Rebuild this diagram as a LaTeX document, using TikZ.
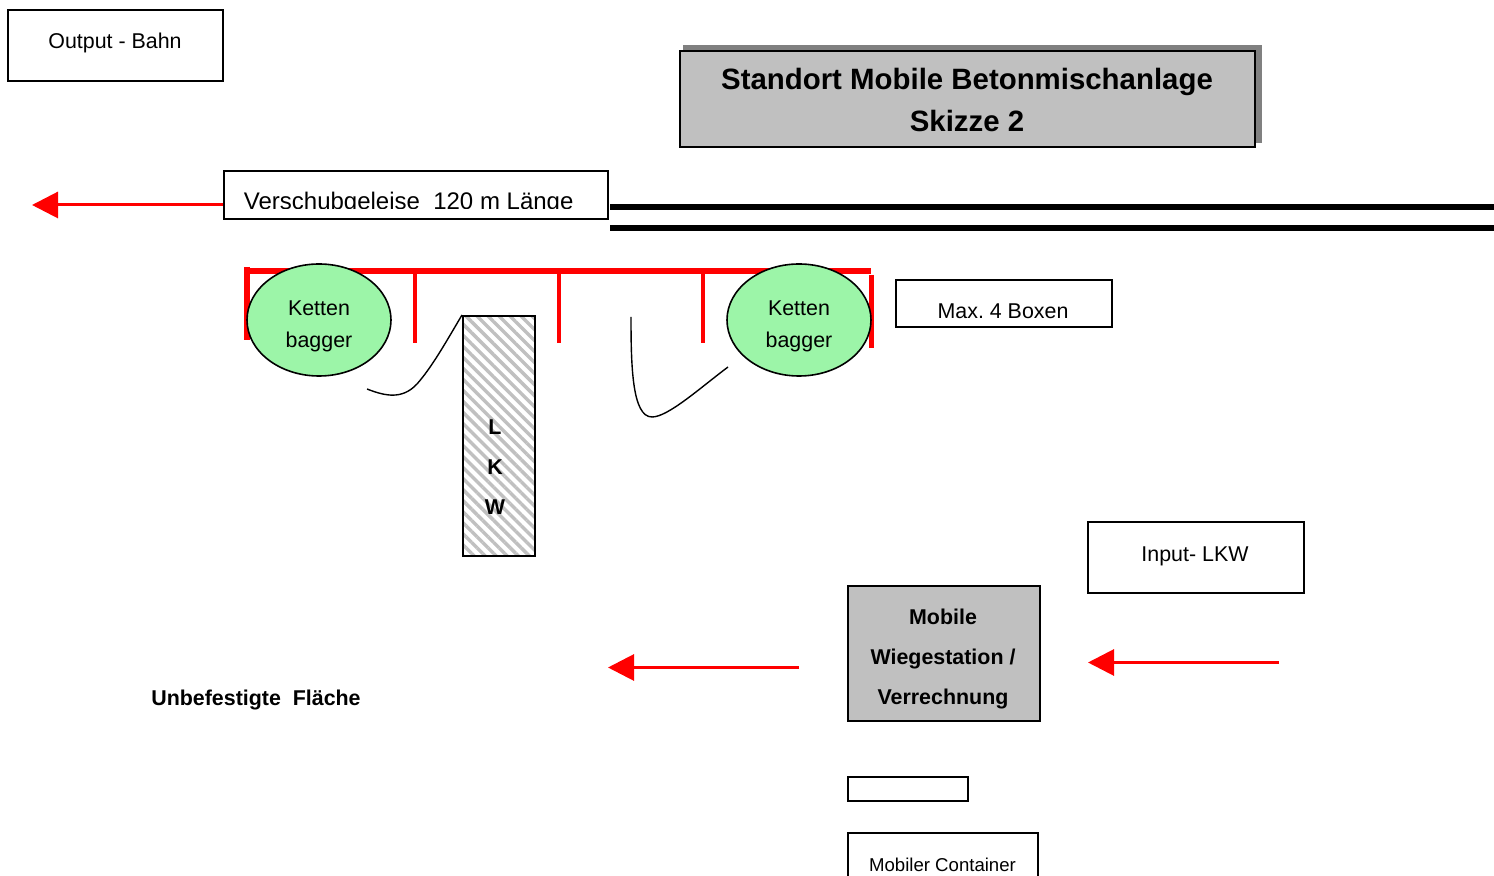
\documentclass[tikz,border=0pt]{standalone}
\usepackage{fontspec}
\setmainfont{Liberation Sans}
\usetikzlibrary{arrows.meta,patterns.meta,shapes.geometric}
\definecolor{boxgray}{HTML}{C0C0C0}
\definecolor{shadowgray}{HTML}{808080}
\definecolor{baggergreen}{HTML}{9CF5A8}
\tikzset{
  box/.style={draw, rectangle, line width=1pt, inner sep=0pt},
  beschriftung/.style={inner sep=0pt, align=center, font=\fontsize{10.7}{20}\selectfont},
  fett/.style={inner sep=0pt, align=center, font=\fontsize{10.7}{20}\selectfont\bfseries},
  bagger/.style={draw, ellipse, line width=0.8pt, fill=baggergreen, minimum width=72pt, minimum height=56pt, inner sep=0pt, align=center, font=\fontsize{10.7}{16}\selectfont},
  pfeil/.style={draw=red, line width=1.5pt, -{Triangle[length=13pt,width=13pt,fill=red]}},
  schiene/.style={line width=3pt},
  wand/.style={draw=red, line width=2pt},
}
\begin{document}
\frenchspacing
\begin{tikzpicture}[x=0.5pt,y=-0.5pt]
  \useasboundingbox (0,0) rectangle (1494,876);
  % Kopf
  \fill[shadowgray] (683,45) rectangle (1262,143);
  \node[box, fill=boxgray, minimum width=287.5pt, minimum height=48pt] (titel) at (967,99.5){};
  \node[fett, font=\fontsize{14.7}{21}\selectfont\bfseries] (titeltext) at (967,100){Standort Mobile Betonmischanlage\\Skizze 2};
  \node[box, minimum width=107.5pt, minimum height=35.5pt] (bahn) at (115,46){};
  \node[beschriftung] (bahntext) at (115,43){Output - Bahn};
  % Gleise
  \node[box, minimum width=192pt, minimum height=24pt] (gleis) at (415.5,195.5){};
  \begin{scope}
    \clip (223,171) rectangle (608,209);
    \node[beschriftung, font=\fontsize{12}{14}\selectfont, anchor=base west] (gleistext) at (243.5,209.5){Verschubgeleise\ \ 120 m Länge};
  \end{scope}
  \coordinate (gleisziel) at (32,205);
  \draw[pfeil] (gleisziel -| gleis.west) -- (gleisziel);
  \coordinate (schiene0) at (610,207);
  \coordinate (schiene1) at (1494,207);
  \coordinate (schiene2) at (610,228);
  \coordinate (schiene3) at (1494,228);
  \draw[schiene] (schiene0) -- (schiene1);
  \draw[schiene] (schiene2) -- (schiene3);
  % Boxen
  \draw[wand, line width=3pt] (245,271) -- (871,271);
  \draw[wand, line width=3pt] (247,267) -- (247,340);
  \draw[wand, line width=2.5pt] (871.5,275) -- (871.5,348);
  \foreach \wandx in {415,559,703}{
    \draw[wand] (\wandx,270) -- (\wandx,343);
  }
  \node[bagger] (bagger0) at (319,320){\raisebox{-5.5pt}[0pt][0pt]{\begin{tabular}{@{}c@{}}Ketten\\bagger\end{tabular}}};
  \node[bagger] (bagger1) at (799,320){\raisebox{-5.5pt}[0pt][0pt]{\begin{tabular}{@{}c@{}}Ketten\\bagger\end{tabular}}};
  \node[box, minimum width=108pt, minimum height=23.5pt] (boxen) at (1003.5,304){};
  \node[beschriftung] (boxentext) at (1003,311){Max. 4 Boxen};
  % LKW
  \node[box, minimum width=36pt, minimum height=120pt, preaction={fill=white}, preaction={pattern={Lines[angle=-45,distance=3.9pt,line width=1.7pt]}, pattern color=boxgray}] (lkw) at (499,436){};
  \node[fett] (lkwtext) at (495,467){L\\K\\W};
  \coordinate (spur0) at (367,389);
  \coordinate (spur1) at (631,317);
  \coordinate (spur2) at (728,367);
  \draw[line width=0.7pt] (spur0) .. controls (385,396) and (402,400) .. (417,384) .. controls (432,367) and (446,342) .. (lkw.north west);
  \draw[line width=0.7pt] (spur1) .. controls (631,365) and (632,417) .. (652,417) .. controls (668,417) and (700,388) .. (spur2);
  % Unten
  \node[box, minimum width=108pt, minimum height=35.5pt] (input) at (1195.5,558){};
  \node[beschriftung] (inputtext) at (1195,556){Input- LKW};
  \node[box, fill=boxgray, minimum width=96pt, minimum height=67pt] (waage) at (943.5,653.5){};
  \node[fett] (waagetext) at (943,659){Mobile\\Wiegestation /\\Verrechnung};
  \coordinate (einstart) at (1279,662.5);
  \coordinate (einziel) at (1088,662.5);
  \coordinate (ausstart) at (799,667.5);
  \coordinate (ausziel) at (608,667.5);
  \draw[pfeil] (einstart) -- (einziel);
  \draw[pfeil] (ausstart) -- (ausziel);
  \node[fett] (flaeche) at (256,700){Unbefestigte\ \ Fläche};
  \node[box, minimum width=60pt, minimum height=12pt] (klein) at (907.5,789){};
  \node[box, minimum width=95pt, minimum height=36pt] (container) at (942.5,869){};
  \node[beschriftung, font=\fontsize{9.3}{12}\selectfont] (containertext) at (942.5,865){Mobiler Container};
\end{tikzpicture}
\end{document}
